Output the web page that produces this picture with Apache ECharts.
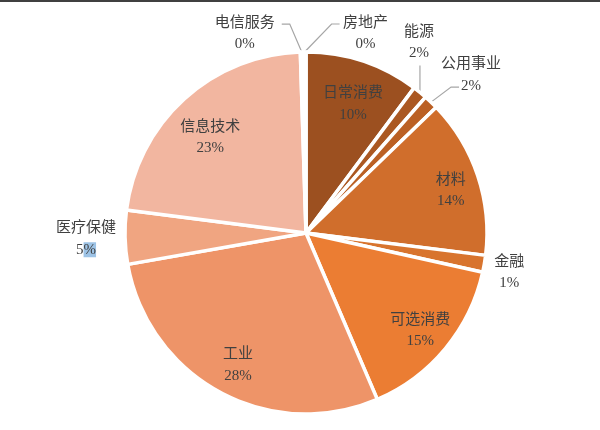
<!DOCTYPE html>
<html>
<head>
<meta charset="utf-8">
<script src="https://cdn.jsdelivr.net/npm/echarts@6/dist/echarts.min.js"></script>
<style>
  html, body { margin: 0; padding: 0; background: #fff; }
  #main { width: 600px; height: 430px; }
</style>
</head>
<body>
<div id="main"></div>
<script>
// 行业名称（顺时针，从12点开始）
var names = ['日常消费', '能源', '公用事业', '材料', '金融', '可选消费', '工业', '医疗保健', '信息技术', '电信服务', '房地产'];
// 扇区大小（从图上量出的角度折算）
var values = [10.2, 1.3, 1.3, 14.2, 1.5, 15.1, 28.7, 4.8, 22.5, 0.25, 0.25];
// 图上标注的百分比
var pctLabels = ['10%', '2%', '2%', '14%', '1%', '15%', '28%', '5%', '23%', '0%', '0%'];

var colors = ['#9c5020', '#ab5822', '#bb6024', '#d06e2c', '#d8742e', '#eb7d33',
              '#ee9468', '#f0a581', '#f2b6a0', '#f6cbb9', '#f9dccf'];

// 标签相对扇区外缘点的位置 (dx, dy) 及引导线折点
var labelPos = {
  '日常消费': { dx: -10, dy: 42, line: [] },
  '能源':     { dx: -1, dy: -51, line: [[0, -27]] },
  '公用事业': { dx: 40, dy: -28, line: [[20, -15], [28, -15]] },
  '材料':     { dx: -27, dy: 14, line: [] },
  '金融':     { dx: 25, dy: 8, line: [] },
  '可选消费': { dx: -25, dy: -19, line: [] },
  '工业':     { dx: 18, dy: -28, line: [] },
  '医疗保健': { dx: -39, dy: 1, line: [] },
  '信息技术': { dx: 26, dy: 38, line: [] },
  '电信服务': { dx: -57, dy: -19, line: [[-12, -28], [-20, -28]] },
  '房地产':   { dx: 61, dy: -19, line: [[27, -28], [35, -28]] }
};

var myChart = echarts.init(document.getElementById('main'));

var pieData = [];
for (var i = 0; i < names.length; i++) {
  pieData.push({ name: names[i], value: values[i], itemStyle: { color: colors[i] } });
}

var option = {
  backgroundColor: '#ffffff',
  animation: false,
  graphic: [{
    type: 'rect',
    shape: { x: 0, y: 0, width: 600, height: 2 },
    style: { fill: '#404040' }
  }],
  series: [{
    type: 'pie',
    center: [306, 233],
    radius: 181,
    startAngle: 90,
    clockwise: true,
    avoidLabelOverlap: false,
    itemStyle: { borderColor: '#ffffff', borderWidth: 3.5 },
    label: {
      show: true,
      position: 'outside',
      formatter: function (p) {
        var pct = pctLabels[p.dataIndex];
        if (p.name === '医疗保健') {
          // 原图中 % 被选中高亮
          return '{n|' + p.name + '}\n{p|' + pct.replace('%', '') + '}{h|%}';
        }
        return '{n|' + p.name + '}\n{p|' + pct + '}';
      },
      rich: {
        n: { fontFamily: 'Noto Sans CJK SC', fontSize: 15, lineHeight: 23, color: '#404040' },
        p: { fontFamily: 'Liberation Serif', fontSize: 15, lineHeight: 23, color: '#404040' },
        h: { fontFamily: 'Liberation Serif', fontSize: 15, lineHeight: 18, color: '#404040', backgroundColor: '#9dc3e6' }
      }
    },
    labelLine: {
      show: true,
      lineStyle: { color: '#a6a6a6', width: 1.2 }
    },
    labelLayout: function (params) {
      var cfg = labelPos[names[params.dataIndex]];
      if (!cfg || !params.labelLinePoints) return {};
      var p0 = params.labelLinePoints[0];
      var pts = [[p0[0], p0[1]]];
      if (cfg.line.length === 0) {
        pts.push([p0[0], p0[1]]);
      }
      for (var k = 0; k < cfg.line.length; k++) {
        pts.push([p0[0] + cfg.line[k][0], p0[1] + cfg.line[k][1]]);
      }
      return {
        x: p0[0] + cfg.dx,
        y: p0[1] + cfg.dy,
        align: 'center',
        verticalAlign: 'middle',
        labelLinePoints: pts
      };
    },
    data: pieData
  }]
};

myChart.setOption(option);
</script>
</body>
</html>
